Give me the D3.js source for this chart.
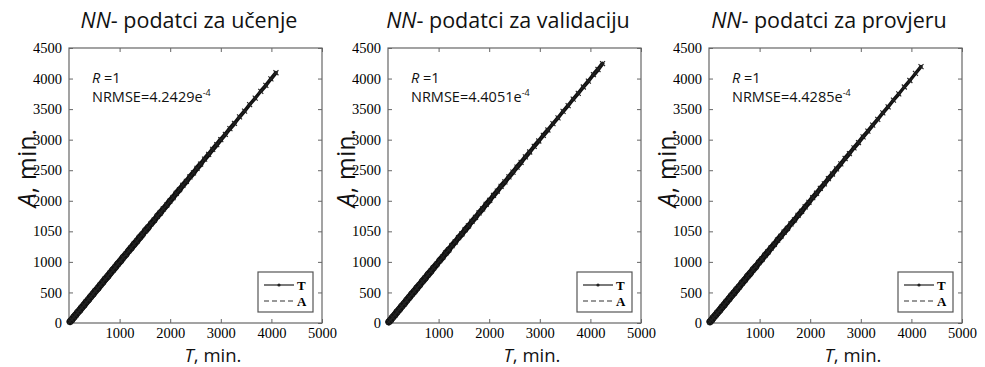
<!DOCTYPE html>
<html>
<head>
<meta charset="utf-8">
<script src="https://cdn.jsdelivr.net/npm/d3@7"></script>
<style>
  body { margin: 0; background: #fff; }
  svg { display: block; }
</style>
</head>
<body>
<div id="chart"></div>
<script>
// panel titles and stats
const titles = ['podatci za učenje', 'podatci za validaciju', 'podatci za provjeru'];
const rValues = ['1', '1', '1'];
const nrmse = ['4.2429', '4.4051', '4.4285'];

// axis ticks (the original figure labels 1500 as "1050")
const xTicks = [1000, 2000, 3000, 4000, 5000];
const yTicks = [0, 500, 1000, 1500, 2000, 2500, 3000, 3500, 4000, 4500];
const yTickLabels = ['0', '500', '1000', '1050', '2000', '2500', '3000', '3500', '4000', '4500'];

// T (target) and A (network output), minutes
const trainT = [20, 55, 95, 130, 170, 210, 250, 295, 340, 385, 430, 475, 520, 570, 620, 665, 715, 765, 815, 865, 915, 965, 1020, 1070, 1125, 1180, 1230, 1285, 1340, 1395, 1450, 1510, 1565, 1625, 1685, 1745, 1805, 1865, 1930, 1990, 2055, 2120, 2185, 2250, 2320, 2390, 2460, 2530, 2600, 2680, 2760, 2840, 2920, 3000, 3090, 3180, 3270, 3370, 3470, 3570, 3680, 3790, 3890, 3990, 4090];
const trainA = [22, 53, 97, 128, 172, 208, 252, 293, 342, 383, 432, 474, 522, 568, 621, 664, 717, 763, 816, 866, 913, 967, 1018, 1072, 1123, 1182, 1229, 1287, 1338, 1397, 1449, 1512, 1563, 1627, 1683, 1747, 1804, 1867, 1928, 1992, 2053, 2122, 2183, 2252, 2318, 2392, 2458, 2532, 2598, 2682, 2758, 2842, 2918, 3002, 3088, 3182, 3268, 3372, 3468, 3572, 3678, 3792, 3888, 3993, 4095];
const valT = [15, 50, 90, 135, 180, 225, 270, 320, 370, 420, 470, 520, 570, 625, 680, 735, 790, 845, 900, 960, 1020, 1080, 1140, 1200, 1265, 1330, 1395, 1460, 1525, 1590, 1660, 1730, 1800, 1870, 1940, 2010, 2085, 2160, 2235, 2310, 2390, 2470, 2550, 2630, 2715, 2800, 2890, 2980, 3070, 3160, 3260, 3360, 3460, 3560, 3660, 3760, 3860, 3960, 4060, 4150, 4240];
const valA = [17, 48, 92, 133, 182, 224, 272, 318, 372, 419, 472, 518, 572, 623, 682, 733, 792, 843, 902, 958, 1022, 1078, 1142, 1198, 1267, 1328, 1397, 1458, 1527, 1588, 1662, 1728, 1802, 1868, 1942, 2008, 2087, 2158, 2237, 2308, 2392, 2468, 2552, 2628, 2717, 2798, 2892, 2978, 3072, 3158, 3262, 3358, 3462, 3558, 3662, 3758, 3862, 3958, 4063, 4148, 4245];
const testT = [18, 50, 85, 125, 165, 210, 255, 300, 345, 395, 445, 495, 545, 595, 650, 705, 760, 815, 870, 925, 985, 1045, 1105, 1165, 1225, 1290, 1355, 1420, 1485, 1550, 1620, 1690, 1760, 1830, 1900, 1975, 2050, 2125, 2200, 2280, 2360, 2440, 2520, 2605, 2690, 2775, 2865, 2955, 3045, 3140, 3235, 3335, 3435, 3540, 3645, 3750, 3860, 3970, 4080, 4190];
const testA = [20, 48, 87, 123, 167, 208, 257, 298, 347, 393, 447, 493, 547, 593, 652, 703, 762, 813, 872, 923, 987, 1043, 1107, 1163, 1227, 1288, 1357, 1418, 1487, 1548, 1622, 1688, 1762, 1828, 1902, 1973, 2052, 2123, 2202, 2278, 2362, 2438, 2522, 2603, 2692, 2773, 2867, 2953, 3047, 3138, 3237, 3333, 3437, 3538, 3647, 3748, 3862, 3968, 4083, 4195];

const seriesT = [trainT, valT, testT];
const seriesA = [trainA, valA, testA];

const W = 985, H = 367;
const panelLeft = [69, 388, 709];
const plotW = 253, plotTop = 48, plotH = 275;

const svg = d3.select('#chart').append('svg')
  .attr('width', W).attr('height', H);

const sans = "'Open Sans', 'Noto Sans', sans-serif";
const serif = "'Liberation Serif', 'DejaVu Serif', serif";
const frameColor = '#666';

panelLeft.forEach((left, p) => {
  const g = svg.append('g').attr('transform', `translate(${left},${plotTop})`);

  const x = d3.scaleLinear().domain([0, 5000]).range([0, plotW]);
  const y = d3.scaleLinear().domain([0, 4500]).range([plotH, 0]);

  // frame
  g.append('rect')
    .attr('width', plotW).attr('height', plotH)
    .attr('fill', 'none').attr('stroke', frameColor).attr('stroke-width', 1.2);

  // ticks on all four sides, pointing inward
  const xb = g.append('g').attr('transform', `translate(0,${plotH})`)
    .call(d3.axisBottom(x).tickValues(xTicks).tickSize(-4).tickPadding(5).tickFormat(d3.format('d')));
  const xt = g.append('g')
    .call(d3.axisTop(x).tickValues(xTicks).tickSize(-4).tickFormat(''));
  const yl = g.append('g')
    .call(d3.axisLeft(y).tickValues(yTicks).tickSize(-4).tickPadding(7)
      .tickFormat((d, i) => yTickLabels[i]));
  const yr = g.append('g').attr('transform', `translate(${plotW},0)`)
    .call(d3.axisRight(y).tickValues(yTicks).tickSize(-4).tickFormat(''));

  [xb, xt, yl, yr].forEach(a => {
    a.attr('font-family', serif).attr('font-size', 14.5);
    a.select('.domain').remove();
    a.selectAll('line').attr('stroke', frameColor);
    a.selectAll('text').attr('fill', '#000');
  });

  // data: T vs A pairs, markers joined by a solid line (thicker where points crowd)
  const pts = seriesT[p].map((t, i) => [x(t), y(seriesA[p][i])]);
  for (let i = 1; i < pts.length; i++) {
    const gap = Math.hypot(pts[i][0] - pts[i - 1][0], pts[i][1] - pts[i - 1][1]);
    g.append('line')
      .attr('x1', pts[i - 1][0]).attr('y1', pts[i - 1][1])
      .attr('x2', pts[i][0]).attr('y2', pts[i][1])
      .attr('stroke', '#111').attr('stroke-linecap', 'round')
      .attr('stroke-width', Math.max(2, Math.min(7, 30 / gap)));
  }
  g.selectAll('.mk').data(pts).enter().append('path')
    .attr('class', 'mk')
    .attr('d', d => `M${d[0] - 2.5},${d[1] - 2.5}L${d[0] + 2.5},${d[1] + 2.5}M${d[0] - 2.5},${d[1] + 2.5}L${d[0] + 2.5},${d[1] - 2.5}`)
    .attr('stroke', '#222').attr('stroke-width', 1.1).attr('fill', 'none');

  // stats text
  const st = g.append('text').attr('x', 23).attr('y', 35)
    .attr('font-family', sans).attr('font-size', 14.5).attr('fill', '#111');
  st.append('tspan').attr('font-style', 'italic').text('R');
  st.append('tspan').text(' =' + rValues[p]);
  const nt = g.append('text').attr('x', 23).attr('y', 54)
    .attr('font-family', sans).attr('font-size', 14.5).attr('fill', '#111');
  nt.append('tspan').text('NRMSE=' + nrmse[p] + 'e');
  nt.append('tspan').attr('font-size', 9).attr('dy', -6).text('-4');

  // legend
  const lg = g.append('g').attr('transform', `translate(${plotW - 64},${plotH - 51})`);
  lg.append('rect').attr('width', 55).attr('height', 40)
    .attr('fill', '#fff').attr('stroke', '#555').attr('stroke-width', 1.2);
  lg.append('line').attr('x1', 6).attr('x2', 36).attr('y1', 13).attr('y2', 13)
    .attr('stroke', '#222').attr('stroke-width', 1.2);
  lg.append('circle').attr('cx', 21).attr('cy', 13).attr('r', 1.6).attr('fill', '#222');
  lg.append('line').attr('x1', 6).attr('x2', 36).attr('y1', 29).attr('y2', 29)
    .attr('stroke', '#333').attr('stroke-width', 1.2).attr('stroke-dasharray', '5,3');
  lg.append('text').attr('x', 39).attr('y', 18).text('T')
    .attr('font-family', serif).attr('font-weight', 'bold').attr('font-size', 13);
  lg.append('text').attr('x', 39).attr('y', 34).text('A')
    .attr('font-family', serif).attr('font-weight', 'bold').attr('font-size', 13);

  // title
  const tt = svg.append('text')
    .attr('x', left + 120).attr('y', 28).attr('text-anchor', 'middle')
    .attr('font-family', sans).attr('font-size', 21.5).attr('fill', '#111');
  tt.append('tspan').attr('font-style', 'italic').text('NN');
  tt.append('tspan').text('- ' + titles[p]);

  // x axis title
  const xtl = svg.append('text')
    .attr('x', left + 144).attr('y', 361.5).attr('text-anchor', 'middle')
    .attr('font-family', sans).attr('font-size', 18.5).attr('fill', '#111');
  xtl.append('tspan').attr('font-style', 'italic').text('T');
  xtl.append('tspan').text(', min.');

  // y axis title
  const ytl = svg.append('text')
    .attr('transform', `translate(${left - 33},${plotTop + 120}) rotate(-90)`)
    .attr('text-anchor', 'middle')
    .attr('font-family', sans).attr('font-size', 25).attr('fill', '#111');
  ytl.append('tspan').attr('font-style', 'italic').text('A');
  ytl.append('tspan').text(', min.');
});
</script>
</body>
</html>
